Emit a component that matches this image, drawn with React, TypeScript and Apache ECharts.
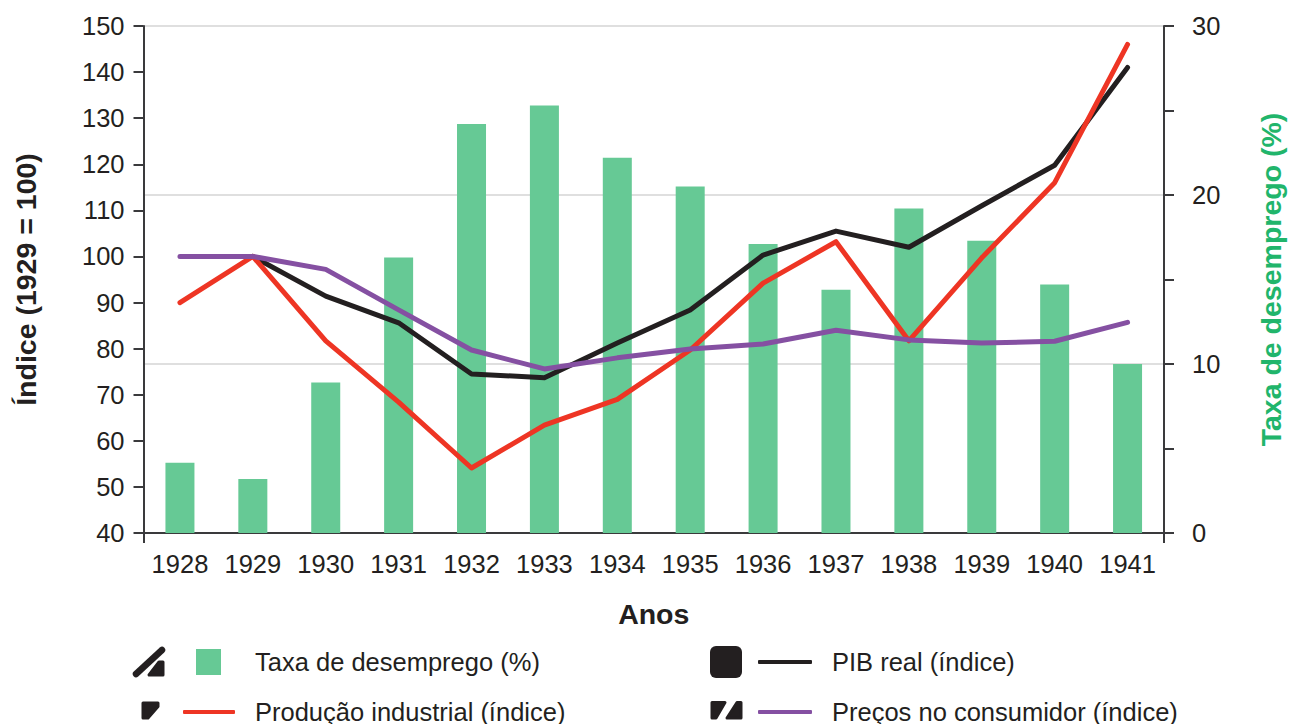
import React, { useEffect, useRef } from "react";
import * as echarts from "echarts";

const years = ["1928","1929","1930","1931","1932","1933","1934","1935","1936","1937","1938","1939","1940","1941"];
const unemployment = [4.15,3.2,8.9,16.3,24.2,25.3,22.2,20.5,17.1,14.4,19.2,17.3,14.7,10.0];
const gdp = [null,100,91.4,85.6,74.5,73.7,81.2,88.4,100.3,105.5,102,111,119.8,141];
const industry = [90,100,81.7,68.4,54.1,63.4,69,79.7,94.2,103.2,81.7,99.7,116,146];
const prices = [100,100,97.2,88.4,79.7,75.6,78,79.9,81,84,81.9,81.2,81.6,85.7];

const FONT = "Liberation Sans";
const INK = "#231f20";
const AXIS = "#3a3a3c";
const GREEN = "#66c995";
const RED = "#ee3524";
const PURPLE = "#8550a2";
const TITLE_GREEN = "#21b56b";

const legendEntry = (name: string, left: number, top: number, w: number, h: number, pad: number, icon: string) => ({
  left, top, itemWidth: w, itemHeight: h, data: [{ name, icon }],
  selectedMode: false, padding: 0,
  textStyle: { fontFamily: FONT, fontSize: 25.5, color: INK, padding: [0, 0, 0, pad] },
});

const blob = (points: number[][]) => ({
  type: "polygon", shape: { points },
  style: { fill: INK, stroke: INK, lineWidth: 3, lineJoin: "round" },
});

export default function App() {
  const ref = useRef<HTMLDivElement>(null);
  useEffect(() => {
    document.body.style.margin = "0";
    const chart = echarts.init(ref.current!, undefined, { renderer: "svg" });
    chart.setOption({
      animation: false,
      textStyle: { fontFamily: FONT },
      grid: { left: 143.5, right: 123, top: 26, bottom: 191, containLabel: false },
      legend: [
        legendEntry("Taxa de desemprego (%)", 196, 649, 25, 26, 29, "rect"),
        legendEntry("Produção industrial (índice)", 183, 699, 52, 4, 15, "roundRect"),
        legendEntry("PIB real (índice)", 758, 649, 54, 4, 15, "roundRect"),
        legendEntry("Preços no consumidor (índice)", 758, 699, 54, 4, 15, "roundRect"),
      ],
      xAxis: [
        {
          type: "category", data: years, boundaryGap: true,
          name: "Anos", nameLocation: "middle", nameGap: 66,
          nameTextStyle: { fontFamily: FONT, fontSize: 28.5, fontWeight: "bold", color: INK },
          axisLine: { onZero: false, lineStyle: { color: AXIS, width: 2 } },
          axisTick: { alignWithLabel: true, length: 10, lineStyle: { color: AXIS, width: 2 } },
          axisLabel: { fontFamily: FONT, fontSize: 25.5, color: INK, margin: 18, interval: 0 },
        },
        {
          type: "category", data: ["", ""], boundaryGap: false, position: "bottom",
          axisLine: { show: false },
          axisTick: { length: 10, lineStyle: { color: AXIS, width: 2 } },
          axisLabel: { show: false },
        },
      ],
      yAxis: [
        {
          type: "value", min: 40, max: 150, interval: 10, position: "left",
          name: "Índice (1929 = 100)", nameLocation: "middle", nameGap: 103, nameRotate: 90,
          nameTextStyle: { fontFamily: FONT, fontSize: 28.5, fontWeight: "bold", color: INK },
          axisLine: { show: true, onZero: false, lineStyle: { color: AXIS, width: 2 } },
          axisTick: { show: true, length: 10, lineStyle: { color: AXIS, width: 2 } },
          axisLabel: { fontFamily: FONT, fontSize: 25.5, color: INK, margin: 19 },
          splitLine: { show: false },
        },
        {
          type: "value", min: 0, max: 30, interval: 10, position: "right",
          name: "Taxa de desemprego (%)", nameLocation: "middle", nameGap: 92, nameRotate: 90,
          nameTextStyle: { fontFamily: FONT, fontSize: 28.5, fontWeight: "bold", color: TITLE_GREEN },
          axisLine: { show: true, onZero: false, lineStyle: { color: AXIS, width: 2 } },
          axisTick: { show: true, length: 10, lineStyle: { color: AXIS, width: 2 } },
          minorTick: { show: true, splitNumber: 2, length: 10, lineStyle: { color: AXIS, width: 2 } },
          axisLabel: { fontFamily: FONT, fontSize: 25.5, color: INK, margin: 28 },
          splitLine: { show: true, lineStyle: { color: "#d4d4d4", width: 1.5 } },
        },
      ],
      series: [
        { name: "Taxa de desemprego (%)", type: "bar", yAxisIndex: 1, data: unemployment, barWidth: 29, itemStyle: { color: GREEN } },
        { name: "PIB real (índice)", type: "line", data: gdp, color: INK, showSymbol: false, symbol: "none", lineStyle: { color: INK, width: 5, cap: "round", join: "round" } },
        { name: "Produção industrial (índice)", type: "line", data: industry, color: RED, showSymbol: false, symbol: "none", lineStyle: { color: RED, width: 5, cap: "round", join: "round" } },
        { name: "Preços no consumidor (índice)", type: "line", data: prices, color: PURPLE, showSymbol: false, symbol: "none", lineStyle: { color: PURPLE, width: 5, cap: "round", join: "round" } },
      ],
      graphic: [
        { type: "line", shape: { x1: 136, y1: 674, x2: 162, y2: 650 }, style: { stroke: INK, lineWidth: 6.5, lineCap: "round" } },
        blob([[149, 675], [163, 675], [163, 662], [159, 662]]),
        blob([[143, 703], [158, 703], [158, 706.5], [148, 718], [143, 718]]),
        { type: "rect", shape: { x: 710, y: 646, width: 32, height: 32, r: 6 }, style: { fill: INK } },
        blob([[712, 702.5], [725, 702.5], [716, 718], [712, 718]]),
        blob([[741, 702.5], [741, 718], [727, 718], [737, 702.5]]),
      ],
    });
    return () => chart.dispose();
  }, []);
  return <div ref={ref} style={{ position: "absolute", left: 0, top: 0, width: 1293, height: 724 }} />;
}
